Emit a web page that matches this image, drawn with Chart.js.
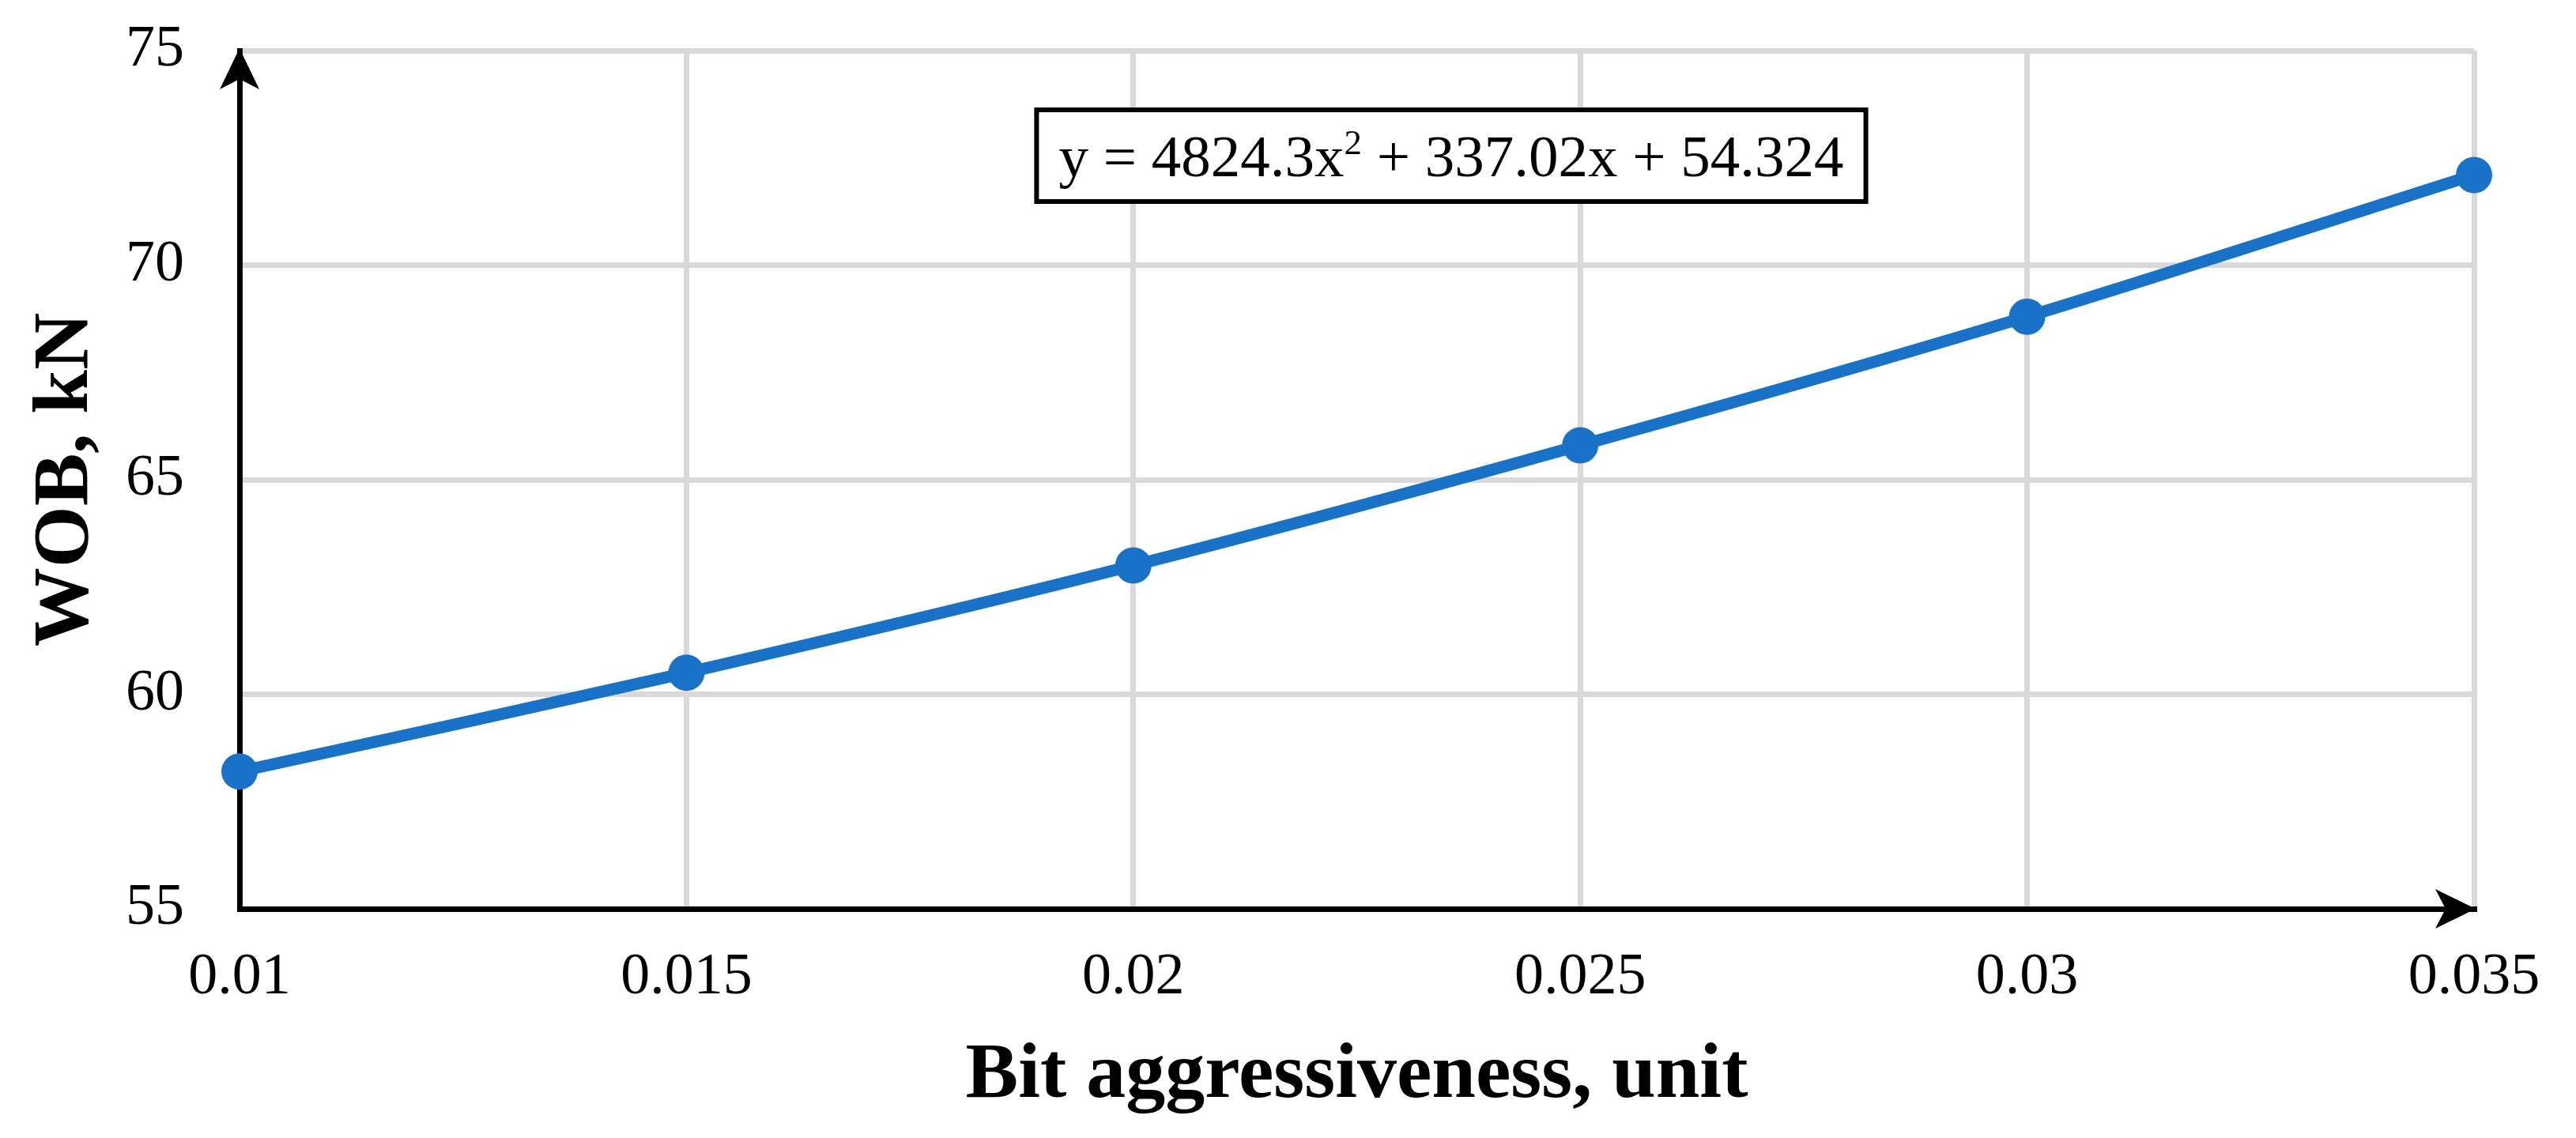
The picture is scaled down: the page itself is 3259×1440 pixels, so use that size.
<!DOCTYPE html>
<html>
<head>
<meta charset="utf-8">
<script src="https://cdn.jsdelivr.net/npm/chart.js@4/dist/chart.umd.min.js"></script>
<style>
  html, body { margin: 0; padding: 0; background: #fff; }
  canvas { display: block; }
</style>
</head>
<body>
<canvas id="c" width="3259" height="1440"></canvas>
<script>
// data
const xValues = [0.01, 0.015, 0.02, 0.025, 0.03, 0.035];
const wobValues = [58.2, 60.5, 63.0, 65.8, 68.8, 72.1];
const xTickLabels = ['0.01', '0.015', '0.02', '0.025', '0.03', '0.035'];
const yTickLabels = ['55', '60', '65', '70', '75'];
const trendText = ['y = 4824.3x', '2', ' + 337.02x + 54.324'];

const BLUE = '#1873C8';
const GRID = '#D9D9D9';
const SERIF = '"Liberation Serif", "Times New Roman", serif';

// arrow heads on the axes + trendline equation box
const extras = {
  id: 'extras',
  afterDraw(chart) {
    const ctx = chart.ctx;
    const a = chart.chartArea;
    ctx.save();
    ctx.fillStyle = '#000';
    // y axis arrow
    const yx = a.left;
    ctx.beginPath();
    ctx.moveTo(yx, a.top - 3);
    ctx.lineTo(yx + 25, a.top + 49);
    ctx.lineTo(yx, a.top + 36);
    ctx.lineTo(yx - 25, a.top + 49);
    ctx.closePath();
    ctx.fill();
    // x axis arrow
    const xy = a.bottom;
    ctx.beginPath();
    ctx.moveTo(a.right + 2, xy);
    ctx.lineTo(a.right - 49, xy - 25);
    ctx.lineTo(a.right - 36, xy);
    ctx.lineTo(a.right - 49, xy + 25);
    ctx.closePath();
    ctx.fill();

    // equation box
    const fs = 75;
    ctx.font = fs + 'px ' + SERIF;
    const supFont = Math.round(fs * 0.6) + 'px ' + SERIF;
    const w1 = ctx.measureText(trendText[0]).width;
    const w3 = ctx.measureText(trendText[2]).width;
    ctx.font = supFont;
    const w2 = ctx.measureText(trendText[1]).width;
    const tw = w1 + w2 + w3;
    const cx = 1836, cy = 197;
    const bw = tw + 56, bh = 116;
    ctx.fillStyle = '#fff';
    ctx.fillRect(cx - bw / 2, cy - bh / 2, bw, bh);
    ctx.lineWidth = 6;
    ctx.strokeStyle = '#000';
    ctx.strokeRect(cx - bw / 2, cy - bh / 2, bw, bh);
    ctx.fillStyle = '#000';
    ctx.textBaseline = 'alphabetic';
    ctx.textAlign = 'left';
    const base = cy + 26;
    let x = cx - tw / 2;
    ctx.font = fs + 'px ' + SERIF;
    ctx.fillText(trendText[0], x, base);
    x += w1;
    ctx.font = supFont;
    ctx.fillText(trendText[1], x, base - 28);
    x += w2;
    ctx.font = fs + 'px ' + SERIF;
    ctx.fillText(trendText[2], x, base);
    ctx.restore();
  }
};

new Chart(document.getElementById('c').getContext('2d'), {
  type: 'line',
  data: {
    datasets: [{
      data: xValues.map((x, i) => ({ x: x, y: wobValues[i] })),
      borderColor: BLUE,
      backgroundColor: BLUE,
      borderWidth: 15,
      tension: 0.3,
      pointRadius: 23,
      pointBorderWidth: 0,
      pointBackgroundColor: BLUE,
      pointBorderColor: BLUE,
      clip: false,
      fill: false
    }]
  },
  options: {
    responsive: false,
    animation: false,
    events: [],
    layout: { padding: { top: 64, right: 129, bottom: 0, left: 0 } },
    plugins: { legend: { display: false }, tooltip: { enabled: false } },
    scales: {
      x: {
        type: 'linear',
        min: 0.01,
        max: 0.035,
        afterFit(s) { s.height = 290; s.paddingLeft = 0; s.paddingRight = 0; },
        ticks: {
          stepSize: 0.005,
          padding: 43,
          color: '#000',
          font: { family: SERIF, size: 74 },
          maxRotation: 0,
          autoSkip: false,
          callback: (v, i) => xTickLabels[i]
        },
        grid: { color: GRID, lineWidth: 7, drawTicks: false },
        border: { color: '#000', width: 7 },
        title: {
          display: true,
          text: 'Bit aggressiveness, unit',
          color: '#000',
          font: { family: SERIF, size: 100, weight: 'bold' },
          padding: { top: 0, bottom: 18 }
        }
      },
      y: {
        min: 55,
        max: 75,
        afterFit(s) { s.width = 303; s.paddingTop = 0; s.paddingBottom = 0; },
        ticks: {
          stepSize: 5,
          padding: 70,
          color: '#000',
          font: { family: SERIF, size: 74 },
          callback: (v, i) => yTickLabels[i]
        },
        grid: { color: GRID, lineWidth: 7, drawTicks: false },
        border: { color: '#000', width: 7 },
        title: {
          display: true,
          text: 'WOB, kN',
          color: '#000',
          font: { family: SERIF, size: 100, weight: 'bold' },
          padding: { top: 24, bottom: 0 }
        }
      }
    }
  },
  plugins: [extras]
});
</script>
</body>
</html>
